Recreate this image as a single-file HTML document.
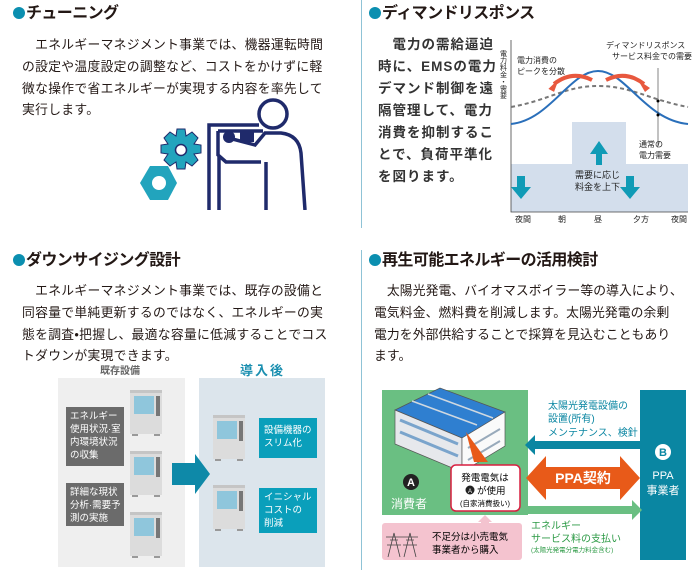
<!DOCTYPE html>
<html><head><meta charset="utf-8"><style>
*{margin:0;padding:0;box-sizing:border-box}
body{width:696px;height:579px;background:#fff;position:relative;overflow:hidden;font-family:"Liberation Sans","Noto Sans CJK JP",sans-serif;color:#231815}
.a{position:absolute;white-space:nowrap}
.t{font-size:16px;font-weight:bold;letter-spacing:-0.6px;line-height:18px}
.t i{display:inline-block;width:12px;height:12px;border-radius:50%;background:#0b8fb0;margin-right:1px;vertical-align:-1px}
.p{font-size:12.8px;line-height:21.8px;letter-spacing:0.3px}
</style></head><body>
<div class="a" style="left:361px;top:0;width:1px;height:228px;background:#8fc3d6"></div>
<div class="a" style="left:361px;top:250px;width:1px;height:320px;background:#8fc3d6"></div>

<div class="a t" style="left:13px;top:5px"><i></i>チューニング</div>
<div class="a p" style="left:22px;top:34px">　エネルギーマネジメント事業では、機器運転時間<br>の設定や温度設定の調整など、コストをかけずに軽<br>微な操作で省エネルギーが実現する内容を率先して<br>実行します。</div>
<svg class="a" style="left:130px;top:95px" width="190" height="115" viewBox="0 0 190 115">
<g fill="#22a4bd" stroke="#1f2a6b" stroke-width="1">
<path d="M47 34h8l1 7 6-4 6 6-4 6 7 1v8l-7 1 4 6-6 6-6-4-1 7h-8l-1-7-6 4-6-6 4-6-7-1v-8l7-1-4-6 6-6 6 4z"/>
</g>
<circle cx="51" cy="55" r="5.5" fill="#fff" stroke="#1f2a6b" stroke-width="1.5"/>
<polygon points="10,88 20,71 38,71 47,88 38,105 20,105" fill="#22a4bd"/>
<circle cx="29" cy="88" r="7" fill="#fff"/>
<g fill="none" stroke="#1f2a6b" stroke-width="3.5">
<circle cx="143" cy="19" r="14"/>
<path d="M79 115V30h50M89 115V60M88 36h45M88 36v24l8 7h35M136 67V115M175 115L171 58q-2-18-20-20l-16 0-10 12-30-8"/>
</g>
<circle cx="99" cy="42" r="6" fill="#1f2a6b"/>
<rect x="110" y="37" width="14" height="10" fill="#1f2a6b"/>
</svg>

<div class="a t" style="left:369px;top:5px"><i></i>ディマンドリスポンス</div>
<div class="a" style="left:378px;top:34px;font-size:13.5px;line-height:22px;font-weight:bold;letter-spacing:1px;color:#333">　電力の需給逼迫<br>時に、EMSの電力<br>デマンド制御を遠<br>隔管理して、電力<br>消費を抑制するこ<br>とで、負荷平準化<br>を図ります。</div>
<svg class="a" style="left:500px;top:35px" width="196" height="195" viewBox="500 35 196 195">
<path d="M511 164H572V122H626V164H688V212H511Z" fill="#d3deec"/>
<path d="M511 40V212H688" fill="none" stroke="#444" stroke-width="0.8"/>
<path d="M511 107C550 100 565 86 598 86S650 100 688 107" fill="none" stroke="#777" stroke-width="2" stroke-dasharray="4 3"/>
<path d="M511 124C550 120 570 71 598 71S645 120 688 124" fill="none" stroke="#2a6fba" stroke-width="2"/>
<path d="M592 80q-20-10-38 4" fill="none" stroke="#e8583e" stroke-width="4"/><polygon points="548,88 560,80 553,92" fill="#e8583e" transform="rotate(-10 553 86)"/>
<path d="M606 80q20-10 38 4" fill="none" stroke="#e8583e" stroke-width="4"/><polygon points="650,88 638,80 645,92" fill="#e8583e"/>
<g fill="#109bb6"><path d="M596 165V154h-6l9-13 9 13h-6v11z"/><path d="M512 176h8v11h6l-10 12-10-12h6z" transform="translate(5 0)"/><path d="M626 176h8v11h6l-10 12-10-12h6z"/></g>
<path d="M658 68V148" stroke="#333" stroke-width="0.6"/><circle cx="658" cy="101" r="1.5"/><circle cx="658" cy="115" r="1.5"/>
<g font-size="8" fill="#222" font-family="Liberation Sans,Noto Sans CJK JP,sans-serif">
<text x="517" y="63">電力消費の</text><text x="517" y="74">ピークを分散</text>
<text x="606" y="48">ディマンドリスポンス</text><text x="612" y="59">サービス料金での需要</text>
<text x="639" y="147">通常の</text><text x="639" y="158">電力需要</text>
<text x="575" y="178" font-size="9">需要に応じ</text><text x="575" y="190" font-size="9">料金を上下</text>
<text x="515" y="222">夜間</text><text x="558" y="222">朝</text><text x="594" y="222">昼</text><text x="633" y="222">夕方</text><text x="671" y="222">夜間</text>
<text x="503" y="50" font-size="7" writing-mode="tb">電力料金・需要</text>
</g></svg>

<div class="a t" style="left:13px;top:252px"><i></i>ダウンサイジング設計</div>
<div class="a p" style="left:22px;top:280px">　エネルギーマネジメント事業では、既存の設備と<br>同容量で単純更新するのではなく、エネルギーの実<br>態を調査•把握し、最適な容量に低減することでコス<br>トダウンが実現できます。</div>
<div class="a" style="left:100px;top:362px;font-size:10px;font-weight:bold;color:#666">既存設備</div>
<div class="a" style="left:240px;top:360px;font-size:13px;font-weight:bold;color:#1b8fb0;letter-spacing:2px">導入後</div>
<div class="a" style="left:58px;top:378px;width:127px;height:189px;background:#efefef"></div>
<div class="a" style="left:199px;top:378px;width:126px;height:189px;background:#dce5ec"></div>
<div class="a" style="left:66px;top:407px;width:58px;height:59px;background:#6b6b6b;color:#fff;font-size:9.5px;line-height:13px;padding:3px 4px">エネルギー<br>使用状況·室<br>内環境状況<br>の収集</div>
<div class="a" style="left:66px;top:483px;width:58px;height:43px;background:#6b6b6b;color:#fff;font-size:9.5px;line-height:13px;padding:3px 4px">詳細な現状<br>分析·需要予<br>測の実施</div>
<div class="a" style="left:259px;top:418px;width:58px;height:40px;background:#0a9fbb;color:#fff;font-size:9.5px;line-height:13px;padding:6px 5px">設備機器の<br>スリム化</div>
<div class="a" style="left:259px;top:488px;width:58px;height:45px;background:#0a9fbb;color:#fff;font-size:9.5px;line-height:13px;padding:3px 5px">イニシャル<br>コストの<br>削減</div>
<svg class="a" style="left:0;top:0" width="696" height="579">
<defs><g id="u"><rect x="0" y="0" width="32" height="44" fill="#dcdcdc"/><rect x="0" y="0" width="32" height="3" fill="#c5c5c5"/><rect x="4" y="6" width="20" height="18" fill="#8fc6dc"/><rect x="26" y="6" width="4" height="20" fill="#777"/><rect x="2" y="44" width="6" height="2" fill="#999"/><rect x="24" y="44" width="6" height="2" fill="#999"/></g></defs>
<use href="#u" x="130" y="390"/><use href="#u" x="130" y="451"/><use href="#u" x="130" y="512"/>
<use href="#u" x="213" y="415"/><use href="#u" x="213" y="485"/>
<path d="M172 463h23v-9l15 20-15 20v-9h-23z" fill="#0e89a8"/>
</svg>

<div class="a t" style="left:369px;top:252px"><i></i>再生可能エネルギーの活用検討</div>
<div class="a p" style="left:374px;top:280px;letter-spacing:0.1px">　太陽光発電、バイオマスボイラー等の導入により、<br>電気料金、燃料費を削減します。太陽光発電の余剰<br>電力を外部供給することで採算を見込むこともあり<br>ます。</div>
<svg class="a" style="left:0;top:0" width="696" height="579" font-family="Liberation Sans,Noto Sans CJK JP,sans-serif">
<rect x="382" y="390" width="146" height="125" fill="#6abf82"/>
<rect x="640" y="390" width="46" height="170" fill="#0a86a2"/>
<rect x="382" y="523" width="140" height="37" rx="3" fill="#f4c3cf"/>
<path d="M528 506h104v-6l10 10-10 10v-6h-104z" fill="#6abf82"/>
<path d="M640 441h-105v-6l-10 10 10 10v-6h105z" fill="#0a86a2"/>
<path d="M526 478l20-22v11h74v-11l20 22-20 22v-11h-74v11z" fill="#e85a19"/>
<text x="583" y="483" fill="#fff" font-size="14" font-weight="bold" text-anchor="middle">PPA契約</text>
<polygon points="395,410 440,388 505,412 462,438" fill="#2f7fd0" stroke="#555" stroke-width="0.7"/>
<path d="M412 401l65 24M428 394l65 24" stroke="#cfd8e0" stroke-width="1.5"/>
<polygon points="395,410 462,438 462,472 395,444" fill="#e6e8ec" stroke="#555" stroke-width="0.7"/>
<polygon points="462,438 505,412 505,446 462,472" fill="#fafafa" stroke="#555" stroke-width="0.7"/>
<path d="M400 420l58 24M400 432l58 24" stroke="#7aa4cc" stroke-width="3"/>
<path d="M468 448l32-19M468 460l32-19" stroke="#9ab" stroke-width="2"/>
<path d="M466 432l22 30h-14z" fill="#e85a19"/>
<rect x="451" y="465" width="69" height="46" rx="5" fill="#fff" stroke="#d81e3f" stroke-width="1.5"/>
<text x="485" y="481" font-size="9.5" text-anchor="middle">発電電気は</text>
<circle cx="470" cy="490" r="4.5" fill="#222"/><text x="470" y="493" font-size="6" fill="#fff" text-anchor="middle">A</text>
<text x="477" y="494" font-size="9.5">が使用</text>
<text x="485" y="506" font-size="7.5" text-anchor="middle">(自家消費扱い)</text>
<circle cx="411" cy="482" r="8" fill="#222"/><text x="411" y="486" font-size="11" fill="#fff" font-weight="bold" text-anchor="middle">A</text>
<text x="391" y="508" font-size="12" fill="#fff">消費者</text>
<circle cx="663" cy="452" r="8" fill="#fff"/><text x="663" y="456" font-size="11" fill="#0a86a2" font-weight="bold" text-anchor="middle">B</text>
<text x="663" y="479" font-size="11" fill="#fff" text-anchor="middle">PPA</text><text x="663" y="494" font-size="11" fill="#fff" text-anchor="middle">事業者</text>
<text x="548" y="409" font-size="10" fill="#0a86a2">太陽光発電設備の</text>
<text x="548" y="422" font-size="10" fill="#0a86a2">設置(所有)</text>
<text x="548" y="436" font-size="10" fill="#0a86a2">メンテナンス、検針</text>
<text x="531" y="529" font-size="10" fill="#2c9a45">エネルギー</text>
<text x="531" y="542" font-size="10" fill="#2c9a45">サービス料の支払い</text>
<text x="531" y="552" font-size="6.5" fill="#2c9a45">(太陽光発電分電力料金含む)</text>
<path d="M481 522h8v5h-8z" fill="#f4c3cf"/><polygon points="478,522 485,515 492,522" fill="#f4c3cf"/>
<g stroke="#444" stroke-width="0.8" fill="none"><path d="M388 557l6-24 6 24M390 540h8M387 545h14M386 537h16"/><path d="M404 557l6-24 6 24M406 540h8M403 545h14M402 537h16"/></g>
<text x="432" y="540" font-size="9.5">不足分は小売電気</text>
<text x="432" y="553" font-size="9.5">事業者から購入</text>
</svg>
</body></html>
